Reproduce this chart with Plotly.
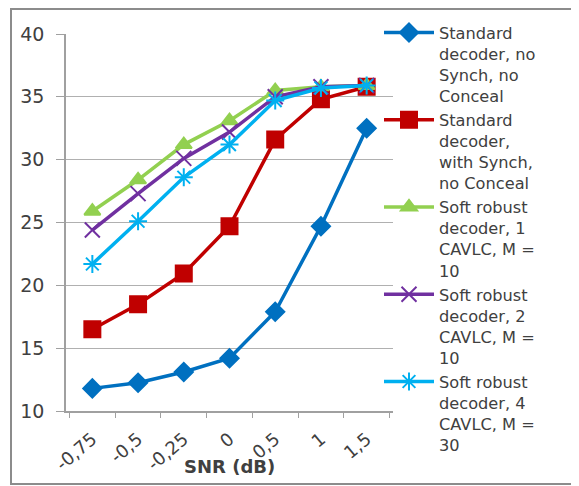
import plotly.graph_objects as go

snr_labels = ["-0,75", "-0,5", "-0,25", "0", "0,5", "1", "1,5"]

std_no_synch = [11.8, 12.25, 13.1, 14.2, 17.9, 24.7, 32.5]
std_with_synch = [16.5, 18.5, 20.95, 24.7, 31.6, 34.8, 35.8]
soft_1 = [25.9, 28.4, 31.2, 33.1, 35.5, 35.8, 35.9]
soft_2 = [24.4, 27.3, 30.1, 32.2, 35.0, 35.8, 35.9]
soft_4 = [21.7, 25.1, 28.6, 31.2, 34.7, 35.7, 35.9]

names = [
    "Standard<br>decoder, no<br>Synch, no<br>Conceal",
    "Standard<br>decoder,<br>with Synch,<br>no Conceal",
    "Soft robust<br>decoder, 1<br>CAVLC, M =<br>10",
    "Soft robust<br>decoder, 2<br>CAVLC, M =<br>10",
    "Soft robust<br>decoder, 4<br>CAVLC, M =<br>30",
]
series = [std_no_synch, std_with_synch, soft_1, soft_2, soft_4]
colors = ["#0070C0", "#C00000", "#92D050", "#7030A0", "#00B0F0"]
symbols = ["diamond", "square", "triangle-up", "x-thin-open", "asterisk-open"]
sizes = [14, 16, 14, 15, 15]

# page has an 8px body margin; figure is sized to fill the rest
W, H = 571, 478
OFF = 8


def px_x(p):
    return (p - OFF) / W


def px_y(p):
    return (H - (p - OFF)) / H


fig = go.Figure()
# empty trace so the outer frame subplot (x2/y2) is created
fig.add_trace(go.Scatter(
    x=[None], y=[None], xaxis="x2", yaxis="y2", mode="lines",
    showlegend=False, hoverinfo="skip",
))
for nm, ys, c, s, sz in zip(names, series, colors, symbols, sizes):
    fig.add_trace(go.Scatter(
        x=snr_labels, y=ys, name=nm, mode="lines+markers",
        line=dict(color=c, width=3.5),
        marker=dict(symbol=s, size=sz, color=c, line=dict(color=c, width=2)),
    ))

font_family = "DejaVu Sans"
grey = "#A0A0A0"
fig.update_layout(
    width=W, height=H,
    margin=dict(l=0, r=0, t=0, b=0, pad=0, autoexpand=False),
    paper_bgcolor="white", plot_bgcolor="rgba(0,0,0,0)",
    font=dict(family=font_family, color="#404040", size=18),
    showlegend=True,
    legend=dict(
        x=px_x(379), y=px_y(15.5), xanchor="left", yanchor="top",
        font=dict(size=16.2, family=font_family, color="#404040"),
        valign="top", bgcolor="rgba(0,0,0,0)", itemwidth=50,
        maxheight=470,
    ),
    xaxis=dict(
        domain=[px_x(66), px_x(393)], anchor="y",
        type="category", tickson="boundaries", ticks="outside", ticklen=5,
        tickcolor=grey, showline=True, linecolor=grey, linewidth=1.5,
        showgrid=False, tickangle=-40, tickfont=dict(size=18),
        ticklabelstandoff=9, automargin=False,
    ),
    yaxis=dict(
        domain=[px_y(411), px_y(34)], anchor="x",
        range=[10, 40], dtick=5, ticks="outside", ticklen=8, tickcolor=grey,
        showline=True, linecolor=grey, linewidth=1.5,
        gridcolor="#B0B0B0", gridwidth=1.2, zeroline=False,
        tickfont=dict(size=19), ticklabelstandoff=8, automargin=False,
    ),
    # outer chart frame
    xaxis2=dict(
        domain=[px_x(12), px_x(577)], anchor="y2", range=[0, 1],
        showline=True, mirror=True, linecolor="#8C8C8C", linewidth=1.5,
        showticklabels=False, ticks="", showgrid=False, zeroline=False,
        fixedrange=True,
    ),
    yaxis2=dict(
        domain=[px_y(482.5), px_y(10)], anchor="x2", range=[0, 1],
        showline=True, mirror=True, linecolor="#8C8C8C", linewidth=1.5,
        showticklabels=False, ticks="", showgrid=False, zeroline=False,
        fixedrange=True,
    ),
)
fig.add_annotation(
    text="<b>SNR (dB)</b>", xref="paper", yref="paper",
    x=px_x(229), y=px_y(466), xanchor="center", yanchor="middle",
    showarrow=False, font=dict(size=18, family=font_family, color="#404040"),
)
fig.write_html("out.html")
